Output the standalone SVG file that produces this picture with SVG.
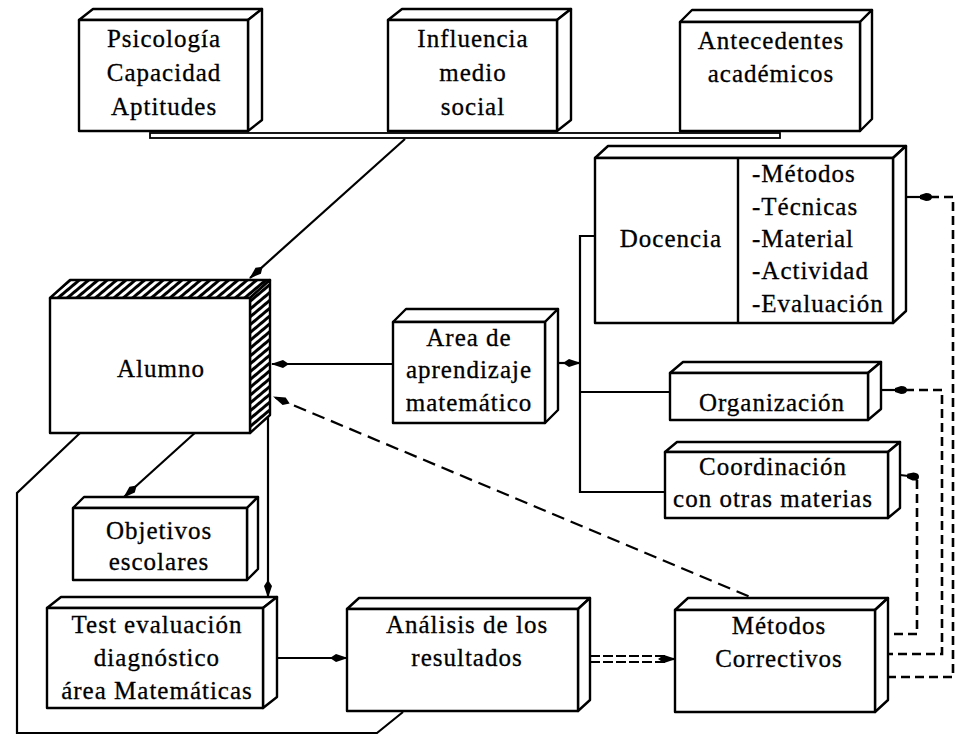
<svg xmlns="http://www.w3.org/2000/svg" width="956" height="737" viewBox="0 0 956 737">
<style>
  .bx{fill:#fff;stroke:#000;stroke-width:2.4;stroke-linejoin:round}
  .t{font-family:"Liberation Serif","Times New Roman",serif;font-size:25px;fill:#000;stroke:#000;stroke-width:0.3;text-anchor:middle;letter-spacing:1px}
  .tl{text-anchor:start}
  .c{fill:none;stroke:#000;stroke-width:2.2}
  .d{fill:none;stroke:#000;stroke-width:2.2;stroke-dasharray:13 7}
  .dr{fill:none;stroke:#000;stroke-width:2.6;stroke-dasharray:9 5}
</style>
<defs>
  <marker id="arr" viewBox="0 0 18 10" refX="17" refY="5" markerWidth="18" markerHeight="10" markerUnits="userSpaceOnUse" orient="auto">
    <path d="M0,5 L6,1 L18,5 L6,9 z" fill="#000"/>
  </marker>
  <marker id="blob" viewBox="0 0 12 10" refX="10" refY="5" markerWidth="12" markerHeight="10" markerUnits="userSpaceOnUse" orient="auto">
    <path d="M0,3 L6,1 Q12,1 12,5 Q12,9 6,9 L0,7 z" fill="#000"/>
  </marker>
  <pattern id="hatch" patternUnits="userSpaceOnUse" width="6" height="6" patternTransform="rotate(-40)">
    <rect width="6" height="6" fill="#fff"/>
    <rect width="6" height="3" fill="#000"/>
  </pattern>
</defs>
<rect width="956" height="737" fill="#fff"/>

<g id="connectors">
  <rect x="150" y="133" width="630" height="5" fill="#fff" stroke="#000" stroke-width="1.8"/>
  <line class="c" x1="405" y1="139" x2="250" y2="278" marker-end="url(#arr)"/>
  <line class="c" x1="393" y1="364" x2="272" y2="364" marker-end="url(#arr)"/>
  <line class="c" x1="558" y1="363" x2="580" y2="363" marker-end="url(#arr)"/>
  <polyline class="c" points="595,236 580,236 580,492 665,492"/>
  <line class="c" x1="580" y1="392" x2="670" y2="392"/>
  <line class="c" x1="218" y1="412" x2="124" y2="497" marker-end="url(#arr)"/>
  <line class="c" x1="268" y1="415" x2="268" y2="597" marker-end="url(#arr)"/>
  <polyline class="c" points="80,433 17,493 17,733 377,733 403,712"/>
  <line class="c" x1="277" y1="658" x2="347" y2="658" marker-end="url(#arr)"/>
  <line fill="none" stroke="#000" stroke-width="1.8" stroke-dasharray="10 3" x1="590" y1="656" x2="668" y2="656"/>
  <line fill="none" stroke="#000" stroke-width="1.8" stroke-dasharray="10 3" x1="590" y1="662" x2="668" y2="662"/>
  <line class="c" x1="660" y1="659" x2="675" y2="659" marker-end="url(#arr)"/>
  <line class="d" x1="767" y1="604" x2="274" y2="397" marker-end="url(#arr)"/>
  <line class="c" x1="906" y1="197" x2="930" y2="197" marker-end="url(#blob)"/>
  <polyline class="dr" points="930,197 953,197 953,677 888,677"/>
  <line class="c" x1="881" y1="390" x2="905" y2="390" marker-end="url(#blob)"/>
  <polyline class="dr" points="905,390 942,390 942,654 888,654"/>
  <line class="c" x1="900" y1="475" x2="917" y2="477" marker-end="url(#blob)"/>
  <polyline class="dr" points="917,480 917,634 888,634"/>
</g>

<g id="psicologia">
  <polygon class="bx" points="79,20 93,9 262,9 248,20"/>
  <polygon class="bx" points="248,20 262,9 262,120 248,131"/>
  <rect class="bx" x="79" y="20" width="169" height="111"/>
  <text class="t" x="164" y="47">Psicología</text>
  <text class="t" x="164" y="81">Capacidad</text>
  <text class="t" x="164" y="115">Aptitudes</text>
</g>

<g id="influencia">
  <polygon class="bx" points="388,20 402,9 571,9 557,20"/>
  <polygon class="bx" points="557,20 571,9 571,120 557,131"/>
  <rect class="bx" x="388" y="20" width="169" height="111"/>
  <text class="t" x="473" y="47">Influencia</text>
  <text class="t" x="473" y="81">medio</text>
  <text class="t" x="473" y="115">social</text>
</g>

<g id="antecedentes">
  <polygon class="bx" points="680,22 692,10 872,10 860,22"/>
  <polygon class="bx" points="860,22 872,10 872,119 860,131"/>
  <rect class="bx" x="680" y="22" width="180" height="109"/>
  <text class="t" x="771" y="49">Antecedentes</text>
  <text class="t" x="771" y="82">académicos</text>
</g>

<g id="docencia">
  <polygon class="bx" points="595,158 608,146 906,146 893,158"/>
  <polygon class="bx" points="893,158 906,146 906,311 893,323"/>
  <rect class="bx" x="595" y="158" width="298" height="165"/>
  <line x1="738" y1="158" x2="738" y2="323" stroke="#000" stroke-width="2.4"/>
  <text class="t" x="671" y="247">Docencia</text>
  <text class="t tl" x="752" y="182">-Métodos</text>
  <text class="t tl" x="752" y="215">-Técnicas</text>
  <text class="t tl" x="752" y="247">-Material</text>
  <text class="t tl" x="752" y="279">-Actividad</text>
  <text class="t tl" x="752" y="312">-Evaluación</text>
</g>

<g id="alumno">
  <polygon points="50,298 70,280 270,280 250,298" fill="url(#hatch)" stroke="#000" stroke-width="2.4" stroke-linejoin="round"/>
  <polygon points="250,298 270,280 270,415 250,433" fill="url(#hatch)" stroke="#000" stroke-width="2.4" stroke-linejoin="round"/>
  <rect class="bx" x="50" y="298" width="200" height="135"/>
  <text class="t" x="161" y="377">Alumno</text>
</g>

<g id="area">
  <polygon class="bx" points="393,322 406,309 558,309 545,322"/>
  <polygon class="bx" points="545,322 558,309 558,410 545,423"/>
  <rect class="bx" x="393" y="322" width="152" height="101"/>
  <text class="t" x="469" y="346">Area de</text>
  <text class="t" x="469" y="378">aprendizaje</text>
  <text class="t" x="469" y="411">matemático</text>
</g>

<g id="organizacion">
  <polygon class="bx" points="670,373 683,362 881,362 868,373"/>
  <polygon class="bx" points="868,373 881,362 881,409 868,420"/>
  <rect class="bx" x="670" y="373" width="198" height="47"/>
  <text class="t" x="772" y="411">Organización</text>
</g>

<g id="coordinacion">
  <polygon class="bx" points="665,452 677,442 900,442 888,452"/>
  <polygon class="bx" points="888,452 900,442 900,508 888,518"/>
  <rect class="bx" x="665" y="452" width="223" height="66"/>
  <text class="t" x="773" y="475">Coordinación</text>
  <text class="t" x="773" y="507">con otras materias</text>
</g>

<g id="objetivos">
  <polygon class="bx" points="73,508 84,497 258,497 247,508"/>
  <polygon class="bx" points="247,508 258,497 258,569 247,580"/>
  <rect class="bx" x="73" y="508" width="174" height="72"/>
  <text class="t" x="159" y="539">Objetivos</text>
  <text class="t" x="159" y="570">escolares</text>
</g>

<g id="test">
  <polygon class="bx" points="47,608 61,597 277,597 263,608"/>
  <polygon class="bx" points="263,608 277,597 277,697 263,708"/>
  <rect class="bx" x="47" y="608" width="216" height="100"/>
  <text class="t" x="157" y="633">Test evaluación</text>
  <text class="t" x="157" y="666">diagnóstico</text>
  <text class="t" x="157" y="699">área Matemáticas</text>
</g>

<g id="analisis">
  <polygon class="bx" points="347,609 359,598 590,598 578,609"/>
  <polygon class="bx" points="578,609 590,598 590,700 578,711"/>
  <rect class="bx" x="347" y="609" width="231" height="102"/>
  <text class="t" x="467" y="633">Análisis de los</text>
  <text class="t" x="467" y="666">resultados</text>
</g>

<g id="correctivos">
  <polygon class="bx" points="675,610 688,598 888,598 875,610"/>
  <polygon class="bx" points="875,610 888,598 888,700 875,712"/>
  <rect class="bx" x="675" y="610" width="200" height="102"/>
  <text class="t" x="779" y="634">Métodos</text>
  <text class="t" x="779" y="667">Correctivos</text>
</g>
</svg>
